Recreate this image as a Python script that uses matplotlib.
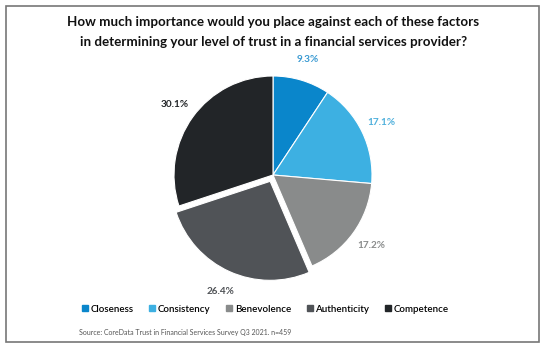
import matplotlib.pyplot as plt
import numpy as np
from matplotlib.patches import Rectangle

factors = ['Closeness', 'Consistency', 'Benevolence', 'Authenticity', 'Competence']
shares = [9.3, 17.1, 17.2, 26.4, 30.1]
colors = ['#0a86cb', '#3db0e2', '#898b8b', '#505357', '#222528']
label_colors = ['#3a9ad2', '#4fb0dc', '#8a8c8c', '#505357', '#222528']
explode = [0, 0, 0, 0.07, 0]

plt.rcParams['font.family'] = ['Lato', 'DejaVu Sans']

fig = plt.figure(figsize=(5.47, 3.51), dpi=100)
fig.patch.set_facecolor('white')

# outer frame
fig.patches.append(Rectangle((6 / 547, 1 - 342 / 351), 533 / 547, 336 / 351,
                             transform=fig.transFigure, fill=False,
                             edgecolor='#777777', linewidth=1.2))

fig.text(0.5, 1 - 22 / 351,
         'How much importance would you place against each of these factors',
         ha='center', va='center', fontsize=9.6, fontweight='bold', color='#111111')
fig.text(0.5, 1 - 42 / 351,
         'in determining your level of trust in a financial services provider?',
         ha='center', va='center', fontsize=9.6, fontweight='bold', color='#111111')

# pie axes: center (273,175), radius ~99 px
r = 99
cx, cy = 273, 175
ax = fig.add_axes([(cx - r) / 547, 1 - (cy + r) / 351, 2 * r / 547, 2 * r / 351])
wedges, _ = ax.pie(shares, colors=colors, startangle=90, counterclock=False,
                   explode=explode, radius=1,
                   wedgeprops=dict(edgecolor='white', linewidth=0.8))
ax.set_xlim(-1, 1)
ax.set_ylim(-1, 1)
ax.set_aspect('auto')
ax.axis('off')

for w, v, c, e in zip(wedges, shares, label_colors, explode):
    ang = np.deg2rad((w.theta1 + w.theta2) / 2)
    d = 1.22 + e
    ax.text(d * np.cos(ang), d * np.sin(ang), f'{v:.1f}%', ha='center', va='center',
            fontsize=7.2, fontweight='bold', color=c)

handles = [plt.Line2D([], [], marker='s', linestyle='', markersize=4,
                      markerfacecolor=c, markeredgecolor=c) for c in colors]
fig.legend(handles, factors, loc='center', bbox_to_anchor=(0.485, 1 - 309 / 351),
           ncol=5, frameon=False, fontsize=7, handlelength=0.6,
           handletextpad=0.3, columnspacing=1.6,
           prop=dict(size=7, weight='semibold'))

fig.text(79 / 547, 1 - 332 / 351,
         'Source: CoreData Trust in Financial Services Survey Q3 2021. n=459',
         ha='left', va='center', fontsize=5, color='#555555')

fig.savefig('out.png', dpi=100, facecolor='white')
